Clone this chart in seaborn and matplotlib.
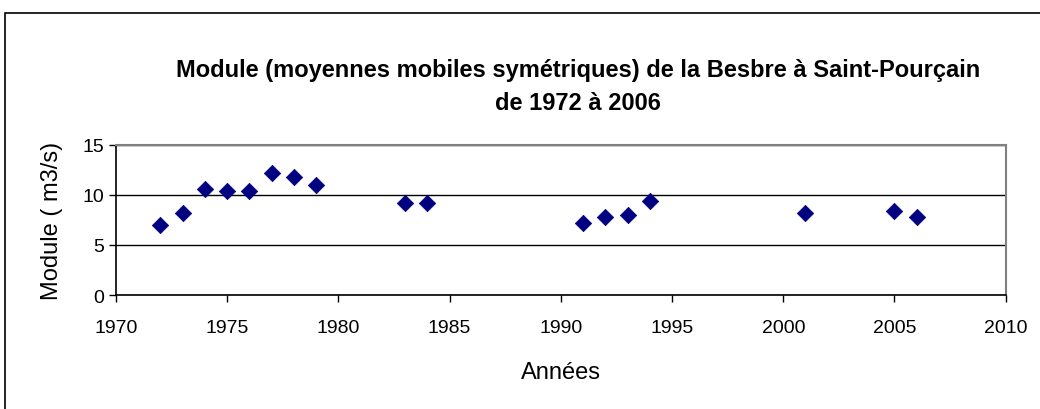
import matplotlib
matplotlib.use("Agg")
import matplotlib.pyplot as plt
import seaborn as sns
import pandas as pd
from matplotlib.patches import Rectangle

# Données
annees = [1972, 1973, 1974, 1975, 1976, 1977, 1978, 1979, 1983, 1984,
          1991, 1992, 1993, 1994, 2001, 2005, 2006]
module = [7.0, 8.2, 10.6, 10.4, 10.4, 12.2, 11.8, 11.0, 9.2, 9.2,
          7.2, 7.8, 8.0, 9.4, 8.2, 8.4, 7.8]

df = pd.DataFrame({"Années": annees, "Module": module})

sns.set_style("white")
plt.rcParams["font.family"] = ["Liberation Sans", "DejaVu Sans"]
plt.rcParams["text.color"] = "black"
plt.rcParams["axes.labelcolor"] = "black"
plt.rcParams["xtick.color"] = "black"
plt.rcParams["ytick.color"] = "black"

fig = plt.figure(figsize=(10.4, 4.1), dpi=100)
ax = fig.add_axes([0.1115, 0.278, 0.8555, 0.366])

# cadre extérieur
fig.patches.append(Rectangle((5 / 1040, -0.2), 1.2, 1.2 - 14 / 410,
                             transform=fig.transFigure, fill=False,
                             edgecolor="black", linewidth=1.2))

sns.scatterplot(data=df, x="Années", y="Module", marker="D", color="#000080",
                s=70, edgecolor="#000080", linewidth=0.5, ax=ax, zorder=3)

ax.set_xlim(1970, 2010)
ax.set_ylim(0, 15)
ax.set_xticks(range(1970, 2011, 5))
ax.set_yticks([0, 5, 10, 15])
ax.yaxis.grid(True, color="black", linewidth=1)
ax.set_axisbelow(True)

for side in ["top", "right"]:
    ax.spines[side].set_color("#808080")
    ax.spines[side].set_linewidth(1.5)
for side in ["left", "bottom"]:
    ax.spines[side].set_color("black")
    ax.spines[side].set_linewidth(1.2)

ax.tick_params(axis="both", which="major", direction="out", length=5,
               width=1, color="black", labelsize=14, bottom=True, left=True)
ax.tick_params(axis="x", pad=12)

ax.set_xlabel("Années", fontsize=17, labelpad=18)
ax.set_ylabel("Module ( m3/s)", fontsize=17, labelpad=14)

fig.text(0.556, 0.788, "Module (moyennes mobiles symétriques) de la Besbre à Saint-Pourçain\nde 1972 à 2006",
         ha="center", va="center", fontsize=17, fontweight="bold", linespacing=1.55)

fig.savefig("out.png", dpi=100)
